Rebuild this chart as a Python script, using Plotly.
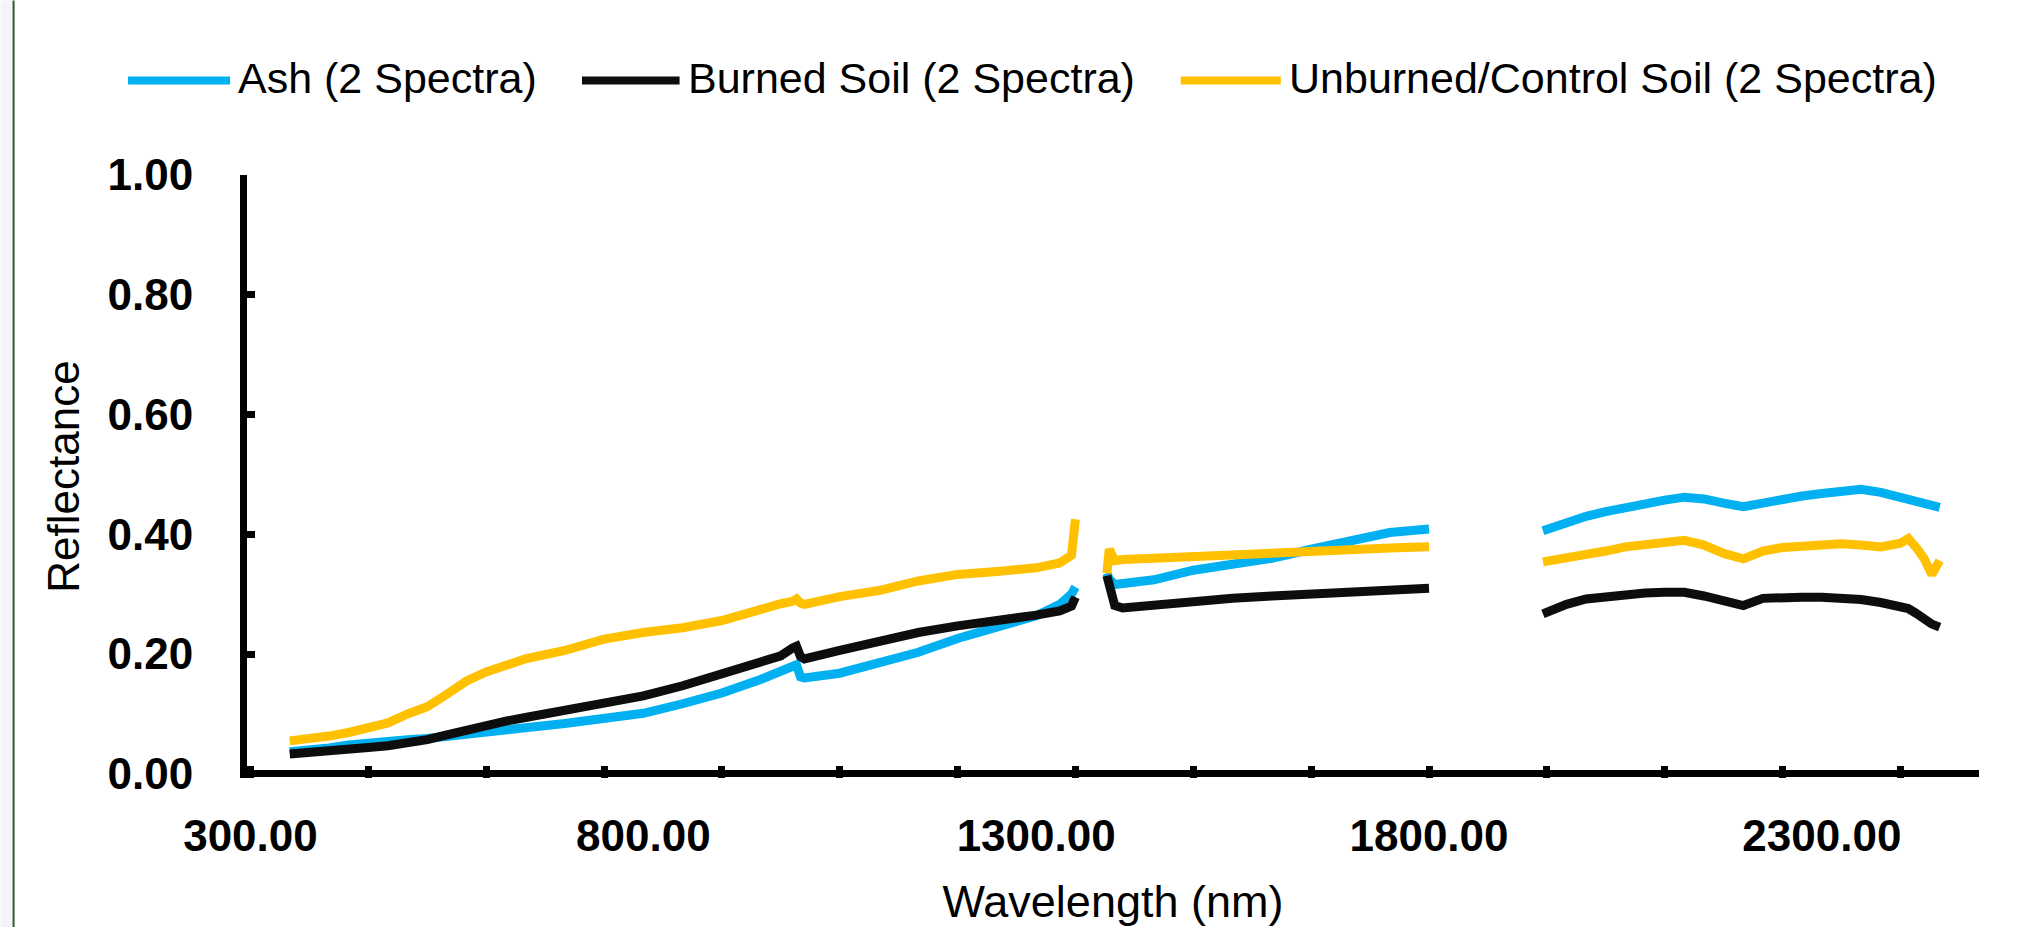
import plotly.graph_objects as go

# ---------------- data ----------------
series_names = ["Ash (2 Spectra)", "Burned Soil (2 Spectra)", "Unburned/Control Soil (2 Spectra)"]
series_colors = ["#00B0F0", "#0D0D0D", "#FFC000"]

# wavelengths (nm); None marks the removed water-absorption bands
wl_vis_nir = [350, 375, 400, 425, 450, 475, 500, 525, 550, 575, 600, 625, 650, 700, 750, 800, 850,
              900, 950, 975, 990, 995, 1000, 1005, 1050, 1100, 1150, 1200, 1250, 1300, 1330, 1345, 1350]
wl_swir1 = [1390, 1393, 1400, 1410, 1450, 1500, 1550, 1600, 1650, 1700, 1750, 1800]
wl_swir2 = [1945, 1975, 2000, 2025, 2050, 2075, 2100, 2125, 2150, 2175, 2200, 2225, 2250, 2275,
            2300, 2325, 2350, 2375, 2400, 2410, 2420, 2430, 2440, 2450]

ash_vis_nir = [0.037, 0.039, 0.043, 0.048, 0.052, 0.055, 0.057, 0.059, 0.062, 0.065, 0.069, 0.073, 0.077,
               0.084, 0.091, 0.101, 0.117, 0.135, 0.158, 0.170, 0.180, 0.182, 0.162, 0.160, 0.168,
               0.185, 0.203, 0.226, 0.244, 0.264, 0.283, 0.300, 0.312]
ash_swir1 = [0.335, 0.325, 0.316, 0.317, 0.324, 0.340, 0.351, 0.360, 0.375, 0.390, 0.403, 0.409]
ash_swir2 = [0.406, 0.420, 0.430, 0.438, 0.445, 0.451, 0.457, 0.462, 0.459, 0.452, 0.446, 0.452,
             0.459, 0.464, 0.468, 0.472, 0.475, 0.470, 0.462, 0.459, 0.453, 0.449, 0.447, 0.445]

burned_vis_nir = [0.033, 0.035, 0.038, 0.041, 0.044, 0.047, 0.051, 0.057, 0.065, 0.073, 0.082, 0.088,
                  0.094, 0.106, 0.118, 0.130, 0.147, 0.168, 0.190, 0.197, 0.210, 0.213, 0.196, 0.192,
                  0.206, 0.222, 0.236, 0.247, 0.255, 0.265, 0.272, 0.280, 0.295]
burned_swir1 = [0.331, 0.310, 0.281, 0.277, 0.282, 0.288, 0.293, 0.297, 0.300, 0.304, 0.308, 0.310]
burned_swir2 = [0.267, 0.283, 0.292, 0.296, 0.300, 0.302, 0.303, 0.303, 0.297, 0.288, 0.281, 0.293,
                0.295, 0.295, 0.295, 0.294, 0.291, 0.286, 0.279, 0.276, 0.268, 0.258, 0.250, 0.245]

unburned_vis_nir = [0.055, 0.058, 0.063, 0.069, 0.076, 0.085, 0.100, 0.112, 0.133, 0.155, 0.170, 0.183,
                    0.192, 0.206, 0.225, 0.236, 0.244, 0.256, 0.277, 0.284, 0.288, 0.292, 0.285, 0.283,
                    0.296, 0.306, 0.322, 0.333, 0.338, 0.344, 0.352, 0.365, 0.425]
unburned_swir1 = [0.335, 0.375, 0.356, 0.358, 0.360, 0.363, 0.368, 0.371, 0.373, 0.375, 0.377, 0.379]
unburned_swir2 = [0.354, 0.360, 0.366, 0.372, 0.379, 0.383, 0.387, 0.390, 0.382, 0.368, 0.359, 0.372,
                  0.378, 0.380, 0.383, 0.384, 0.382, 0.379, 0.385, 0.393, 0.378, 0.360, 0.333, 0.356]

x_tick_vals = [300, 800, 1300, 1800, 2300]
x_tick_text = ["300.00", "800.00", "1300.00", "1800.00", "2300.00"]
y_tick_vals = [0.0, 0.2, 0.4, 0.6, 0.8, 1.0]
y_tick_text = ["0.00", "0.20", "0.40", "0.60", "0.80", "1.00"]

# ---------------- layout geometry ----------------
W, H = 2017, 927
ML, MR, MT, MB = 246.5, 38, 174.5, 149.3
PW, PH = W - ML - MR, H - MT - MB
FONT = "Liberation Sans, Arial, sans-serif"


def px_x(p):
    return (p - ML) / PW


def px_y(p):
    return (H - MB - p) / PH


def join(*segs):
    out = []
    for i, s in enumerate(segs):
        if i:
            out.append(None)
        out.extend(s)
    return out


wl = join(wl_vis_nir, wl_swir1, wl_swir2)
series_values = [
    join(ash_vis_nir, ash_swir1, ash_swir2),
    join(burned_vis_nir, burned_swir1, burned_swir2),
    join(unburned_vis_nir, unburned_swir1, unburned_swir2),
]

fig = go.Figure()
for name, color, vals in zip(series_names, series_colors, series_values):
    fig.add_trace(go.Scatter(x=wl, y=vals, mode="lines", name=name, showlegend=False,
                             connectgaps=False, line=dict(color=color, width=9)))
# empty trace to host the minor-tick axis
fig.add_trace(go.Scatter(x=[], y=[], xaxis="x2", showlegend=False, hoverinfo="skip"))

x_range = [295.6, 2500]

fig.update_layout(
    width=W, height=H,
    margin=dict(l=ML, r=MR, t=MT, b=MB, autoexpand=False),
    paper_bgcolor="white", plot_bgcolor="white",
    font=dict(family=FONT, size=44, color="black"),
    xaxis=dict(range=x_range, tickmode="array", tickvals=x_tick_vals, ticktext=x_tick_text,
               ticks="", showgrid=False, zeroline=False, showline=False, automargin=False,
               tickfont=dict(family=FONT, size=44, color="black", weight="bold"),
               ticklabelstandoff=28,
               title=dict(text="Wavelength (nm)", font=dict(family=FONT, size=45, color="black"),
                          standoff=30)),
    xaxis2=dict(range=x_range, overlaying="x", anchor="y", side="bottom", tickmode="linear",
                tick0=300, dtick=150, ticks="inside", ticklen=12, tickwidth=7, tickcolor="black",
                showticklabels=False, showgrid=False, zeroline=False, showline=False),
    yaxis=dict(range=[-0.007, 1.0], tickmode="array", tickvals=y_tick_vals, ticktext=y_tick_text,
               ticks="inside", ticklen=8, tickwidth=7, tickcolor="black",
               showline=True, linewidth=7, linecolor="black",
               zeroline=True, zerolinewidth=7, zerolinecolor="black",
               showgrid=False, automargin=False,
               tickfont=dict(family=FONT, size=44, color="black", weight="bold"),
               ticklabelstandoff=38,
               title=dict(text="Reflectance", font=dict(family=FONT, size=44, color="black"),
                          standoff=17)),
)

# custom legend (long line keys like the reference)
legend_keys = [(127.5, 229.6), (581.6, 679.2), (1180.5, 1280.6)]
for (x0, x1), name, color in zip(legend_keys, series_names, series_colors):
    fig.add_shape(type="line", xref="paper", yref="paper", x0=px_x(x0), x1=px_x(x1),
                  y0=px_y(80), y1=px_y(80), line=dict(color=color, width=8))
    fig.add_annotation(xref="paper", yref="paper", x=px_x(x1 + 6), y=px_y(77), text=name,
                       showarrow=False, xanchor="left", yanchor="middle",
                       font=dict(family=FONT, size=43, color="black"))

# left window edge
fig.add_shape(type="rect", xref="paper", yref="paper", x0=px_x(0), x1=px_x(12),
              y0=px_y(H), y1=px_y(0), line=dict(width=0), fillcolor="#F3F5FB", layer="below")
fig.add_shape(type="line", xref="paper", yref="paper", x0=px_x(13), x1=px_x(13),
              y0=px_y(H), y1=px_y(0), line=dict(color="#2E5A2E", width=2))

fig.write_html("out.html")
